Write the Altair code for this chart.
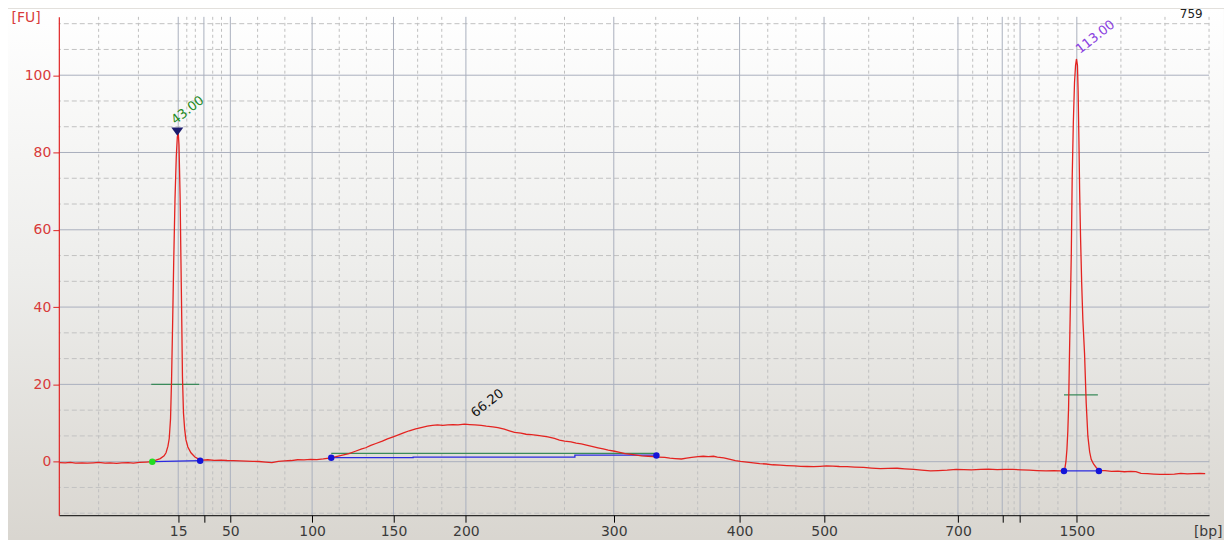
import json
import altair as alt
import pandas as pd

# ---------------- data ----------------
# red trace: migration time [s] vs fluorescence [FU]
trace_t = [
    33.75, 34.2, 34.6, 35.0, 35.5, 35.9, 36.4, 36.8, 37.3, 37.7, 38.2, 38.6, 39.1, 39.5, 40.0, 40.5,
    40.98, 41.27, 41.6, 41.9, 42.05, 42.2, 42.3, 42.4, 42.48, 42.56, 42.65, 42.75, 42.85, 42.93,
    43.0, 43.06, 43.1, 43.15, 43.2, 43.27, 43.33, 43.41, 43.5, 43.6, 43.75, 43.99, 44.3, 44.63,
    44.9, 45.3, 45.8, 46.3, 46.8, 47.3, 47.8, 48.3, 48.8, 49.3, 49.8, 50.3, 50.8, 51.3, 51.8, 52.3,
    52.8, 53.3, 53.8, 54.3, 54.9,
    55.3, 55.8, 56.3, 56.8, 57.3, 57.6, 58.0, 58.4, 58.9, 59.3, 59.8, 60.2, 60.6, 61.0, 61.5, 62.0,
    62.4, 62.8, 63.2, 63.6, 64.0, 64.4, 64.8, 65.3, 65.7, 66.1, 66.6, 67.0, 67.5, 67.9, 68.4, 68.8,
    69.2, 69.7, 70.1, 70.5, 71.0, 71.4, 71.8, 72.3, 72.7, 73.1, 73.6, 74.0, 74.4, 74.8, 75.3, 75.7,
    76.1, 76.5, 77.0, 77.4, 77.8, 78.3, 78.7, 79.1, 79.6, 80.0, 80.4, 80.9, 81.3, 81.7, 82.2, 82.6,
    83.0, 83.5, 83.9, 84.3, 84.7, 85.0, 85.5, 86.0, 86.4, 86.8, 87.3, 87.8, 88.3, 88.8, 89.3, 89.9,
    90.4, 91.0, 91.5, 92.0, 92.5, 93.0, 93.5, 94.0, 94.5, 95.1, 95.7, 96.4, 97.0, 97.7, 98.3, 99.0,
    99.6, 100.3, 100.9, 101.6, 102.2, 102.9, 103.6, 104.2, 104.8, 105.5, 106.1, 106.8, 107.4, 108.0,
    108.7, 109.3, 109.9, 110.6, 111.2, 111.7,
    112.04, 112.15, 112.23, 112.3, 112.36, 112.43, 112.5, 112.57, 112.64, 112.73, 112.82, 112.9,
    112.97, 113.05, 113.1, 113.16, 113.22, 113.29, 113.38, 113.47, 113.6, 113.73, 113.86, 114.0,
    114.12, 114.3, 114.51, 114.77,
    115.2, 115.7, 116.2, 116.7, 117.2, 117.6, 118.0, 118.5, 119.0, 119.5, 120.1, 120.6, 121.1,
    121.6, 122.1, 122.6, 123.0,
]
trace_fu = [
    -0.25, -0.3, -0.2, -0.35, -0.3, -0.4, -0.3, -0.2, -0.35, -0.3, -0.45, -0.3, -0.25, -0.35, -0.2, -0.1,
    0.0, 0.4, 0.8, 1.5, 2.3, 4.0, 6.0, 11.0, 21.0, 35.0, 52.0, 68.0, 79.0, 84.0,
    85.2, 82.0, 76.0, 68.0, 55.0, 38.0, 22.0, 12.6, 8.5, 5.7, 3.8, 2.3, 1.2, 0.6,
    0.4, 0.5, 0.35, 0.4, 0.3, 0.25, 0.2, 0.15, 0.1, 0.05, -0.1, -0.25, 0.1, 0.2, 0.3, 0.5,
    0.45, 0.6, 0.55, 0.7, 1.0,
    1.3, 1.7, 2.1, 2.7, 3.3, 3.6, 4.2, 4.7, 5.3, 5.9, 6.5, 7.0, 7.5, 8.0, 8.5, 8.9,
    9.2, 9.4, 9.5, 9.4, 9.5, 9.6, 9.5, 9.7, 9.6, 9.5, 9.4, 9.2, 9.0, 8.8, 8.4, 8.0,
    7.6, 7.4, 7.1, 7.0, 6.8, 6.6, 6.4, 6.0, 5.6, 5.3, 5.1, 4.8, 4.6, 4.3, 3.9, 3.6,
    3.3, 3.0, 2.7, 2.4, 2.1, 1.9, 1.7, 1.5, 1.4, 1.3, 1.2, 1.1, 0.9, 0.8, 0.7, 0.9,
    1.1, 1.3, 1.4, 1.3, 1.4, 1.2, 1.0, 0.6, 0.3, 0.1, -0.1, -0.3, -0.5, -0.6, -0.8, -0.9,
    -1.0, -1.1, -1.2, -1.25, -1.3, -1.2, -1.1, -1.15, -1.25, -1.3, -1.4, -1.5, -1.65, -1.8, -1.75, -1.7,
    -1.85, -2.0, -2.2, -2.4, -2.3, -2.2, -2.0, -2.05, -2.1, -2.0, -1.95, -2.05, -2.0, -2.0,
    -2.1, -2.2, -2.3, -2.4, -2.35, -2.4,
    -2.4, 0.0, 3.2, 8.0, 14.3, 28.1, 41.0, 53.9, 73.6, 88.0, 98.1, 102.5,
    104.2, 102.5, 96.0, 83.9, 70.0, 58.1, 46.0, 36.7, 28.1, 15.2, 6.6, 2.5,
    0.6, -0.6, -1.5, -2.3,
    -2.3, -2.5, -2.45, -2.6, -2.5, -2.6, -3.0, -3.1, -3.2, -3.3, -3.3, -3.2, -3.05,
    -3.15, -3.1, -3.05, -3.1,
]

# ladder: size [bp] and its migration time [s]; blank label = tick without text
ladder_bp = [15, 25, 50, 100, 150, 200, 300, 400, 500, 700, 850, 1000, 1500]
ladder_t = [43.0, 45.0, 47.06, 53.43, 59.77, 65.41, 76.93, 86.73, 93.31, 103.74, 107.19, 108.58, 113.0]
ladder_label = ["15", "", "50", "100", "150", "200", "300", "400", "500", "700", "", "", "1500"]

fu_ticks = [0, 20, 40, 60, 80, 100]

X_DOMAIN = [33.7, 123.3]
Y_DOMAIN = [-13.85, 115.1]
# full panel extent (including margins) in data units, for the background
PANEL_X = [29.74, 124.46]
PANEL_Y = [-20.05, 117.17]

# integration end points
dot_t = [40.98, 44.71, 54.92, 80.25, 112.0, 114.72]
dot_fu = [0.0, 0.25, 1.03, 1.6, -2.4, -2.4]
dot_color = ["#22dd22", "#1414d8", "#1414d8", "#1414d8", "#1414d8", "#1414d8"]

# blue baselines
base_t = [40.98, 44.71, 54.92, 61.3, 61.3, 73.9, 73.9, 80.25, 112.0, 114.72]
base_fu = [0.0, 0.25, 1.03, 1.03, 1.19, 1.19, 1.7, 1.7, -2.4, -2.4]
base_id = ["a", "a", "b", "b", "b", "b", "b", "b", "c", "c"]

# green width bars
bar_t0 = [40.9, 54.92, 112.0]
bar_t1 = [44.63, 80.1, 114.64]
bar_fu = [20.0, 2.14, 17.3]

# peak marker
marker_t = [42.93]
marker_fu = [85.4]

# peak labels (migration time)
label_text = ["43.00", "66.20", "113.00"]
label_t = [42.6, 65.95, 113.05]
label_fu = [88.0, 12.2, 106.3]
label_color = ["#1f8a1f", "#111111", "#8a3fe0"]

# corner note
note_text = ["759"]
note_t = [122.8]
note_fu = [115.8]

# ---------------- chart ----------------
W, H = 1154, 500
FONT = "DejaVu Sans"

xs = alt.Scale(domain=X_DOMAIN, nice=False, zero=False)
ys = alt.Scale(domain=Y_DOMAIN, nice=False, zero=False)

edges = [X_DOMAIN[0]] + ladder_t + [X_DOMAIN[1]]
minor_x = []
for a, b in zip(edges[:-1], edges[1:]):
    minor_x += [a + (b - a) / 3, a + 2 * (b - a) / 3]
minor_x.append(X_DOMAIN[1])
minor_y = [k * 20 / 3 for k in range(-2, 18) if k % 3 != 0]

label_expr = f"{json.dumps(ladder_label)}[indexof({json.dumps(ladder_t)}, datum.value)]"

bg = alt.Chart(
    pd.DataFrame({"x0": [PANEL_X[0]], "x1": [PANEL_X[1]], "y0": [PANEL_Y[1]], "y1": [PANEL_Y[0]]})
).mark_rect(
    fill=alt.LinearGradient(
        gradient="linear",
        stops=[
            alt.GradientStop(color="#ffffff", offset=0),
            alt.GradientStop(color="#ededeb", offset=0.5),
            alt.GradientStop(color="#d9d6d0", offset=1),
        ],
        x1=0, x2=0, y1=0, y2=1,
    )
).encode(
    x=alt.X("x0:Q", scale=xs), x2="x1:Q",
    y=alt.Y("y0:Q", scale=ys), y2="y1:Q",
)

grid_minor_x = alt.Chart(pd.DataFrame({"t": minor_x})).mark_rule(
    color="#bfbfbf", strokeWidth=1, strokeDash=[3, 3]
).encode(x=alt.X("t:Q", scale=xs))

grid_minor_y = alt.Chart(pd.DataFrame({"fu": minor_y})).mark_rule(
    color="#c2c2c2", strokeWidth=1, strokeDash=[5, 3]
).encode(y=alt.Y("fu:Q", scale=ys))

grid_x = alt.Chart(pd.DataFrame({"t": ladder_t})).mark_rule(
    color="#aab0be", strokeWidth=1
).encode(x=alt.X("t:Q", scale=xs))

grid_y = alt.Chart(pd.DataFrame({"fu": fu_ticks})).mark_rule(
    color="#aab0be", strokeWidth=1
).encode(y=alt.Y("fu:Q", scale=ys))

trace = alt.Chart(pd.DataFrame({"t": trace_t, "fu": trace_fu})).mark_line(
    color="#e42320", strokeWidth=1.3
).encode(
    x=alt.X(
        "t:Q", scale=xs,
        axis=alt.Axis(
            values=ladder_t, labelExpr=label_expr, grid=False, zindex=2,
            domainColor="#000000", domainWidth=1, tickColor="#000000", tickSize=7,
            labelColor="#3a3a3a", labelFont=FONT, labelFontSize=14, labelPadding=2,
            labelOverlap=False, labelFlush=False,
            title="[bp]", titleFont=FONT, titleFontSize=14, titleFontWeight="normal",
            titleColor="#3a3a3a", titleX=1167, titleY=16, titleAlign="right",
            titleBaseline="middle", titleAngle=0,
        ),
    ),
    y=alt.Y(
        "fu:Q", scale=ys,
        axis=alt.Axis(
            values=fu_ticks, format="d", grid=False, zindex=2,
            domainColor="#e02424", domainWidth=1.2, tickColor="#e02424", tickSize=6,
            labelColor="#d83a3a", labelFont=FONT, labelFontSize=14, labelPadding=2,
            title="[FU]", titleFont=FONT, titleFontSize=14, titleFontWeight="normal",
            titleColor="#d83a3a", titleAngle=0, titleX=-48, titleY=1,
            titleAlign="left", titleBaseline="middle",
        ),
    ),
)

bars = alt.Chart(pd.DataFrame({"t0": bar_t0, "t1": bar_t1, "fu": bar_fu})).mark_rule(
    color="#3a8a5a", strokeWidth=1.2
).encode(
    x=alt.X("t0:Q", scale=xs), x2="t1:Q",
    y=alt.Y("fu:Q", scale=ys),
)

baselines = alt.Chart(pd.DataFrame({"t": base_t, "fu": base_fu, "g": base_id})).mark_line(
    color="#2a2ae0", strokeWidth=1.3
).encode(
    x=alt.X("t:Q", scale=xs),
    y=alt.Y("fu:Q", scale=ys),
    detail="g:N",
)

dots = alt.Chart(pd.DataFrame({"t": dot_t, "fu": dot_fu, "c": dot_color})).mark_point(
    filled=True, shape="circle", size=42, opacity=1
).encode(
    x=alt.X("t:Q", scale=xs),
    y=alt.Y("fu:Q", scale=ys),
    color=alt.Color("c:N", scale=None),
)

marker = alt.Chart(pd.DataFrame({"t": marker_t, "fu": marker_fu})).mark_point(
    filled=True, shape="M-1,-0.7L1,-0.7L0,0.7Z", size=144, color="#1c1c6e", opacity=1
).encode(
    x=alt.X("t:Q", scale=xs),
    y=alt.Y("fu:Q", scale=ys),
)

labels = alt.Chart(
    pd.DataFrame({"t": label_t, "fu": label_fu, "txt": label_text, "c": label_color})
).mark_text(
    angle=322, align="left", baseline="middle", font=FONT, fontSize=13
).encode(
    x=alt.X("t:Q", scale=xs),
    y=alt.Y("fu:Q", scale=ys),
    text="txt:N",
    color=alt.Color("c:N", scale=None),
)

note = alt.Chart(pd.DataFrame({"t": note_t, "fu": note_fu, "txt": note_text})).mark_text(
    align="right", baseline="middle", font=FONT, fontSize=12, color="#222222"
).encode(
    x=alt.X("t:Q", scale=xs),
    y=alt.Y("fu:Q", scale=ys),
    text="txt:N",
)

chart = alt.layer(
    bg, grid_minor_x, grid_minor_y, grid_x, grid_y, bars, baselines, trace, dots, marker, labels, note
).properties(
    width=W,
    height=H,
    autosize=alt.AutoSizeParams(type="none"),
    padding={"left": 51, "top": 8, "right": 15, "bottom": 24},
    background="#d9d6d0",
).configure_view(stroke="transparent")

chart.save("out.html", embed_options={"renderer": "svg", "actions": False})
